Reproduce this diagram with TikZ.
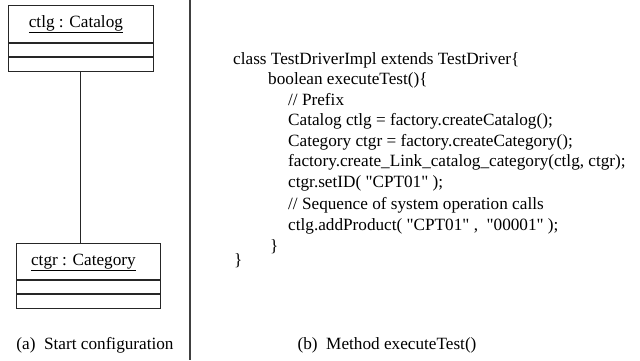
\documentclass[tikz,border=0pt]{standalone}
\usepackage{fontspec}
\setmainfont{Liberation Serif}
\usetikzlibrary{positioning}
%%
%% One line of the test driver code, placed by its baseline.
\newcommand{\codeLine}[4]{%%
  \node[codeStyle] (#1) at (#2,#3) {#4};
}
%% An object box: title compartment and two empty compartments.
\newcommand{\objBox}[6]{%%
  \node[titleStyle,minimum width=#4,minimum height=#5] (#1) at (#2,#3) {};
  \node[compStyle,minimum width=#4,below=0pt of #1] (#1Attr) {};
  \node[compStyle,minimum width=#4,below=0pt of #1Attr] (#1Ops) {};
  \node[objNameStyle] (#1Name) at ([xshift=-5pt,yshift=-22pt]#1.north) {\underline{#6}};
}
\newcommand{\qq}{\textquotedbl}

\begin{document}
\begin{tikzpicture}[%%
  x=1pt,y=-1pt,
  titleStyle/.style={draw=black!85,line width=0.8pt,inner sep=0pt,anchor=north west},%%
  compStyle/.style={draw=black!85,line width=0.8pt,inner sep=0pt,minimum height=13.5pt},%%
  objNameStyle/.style={inner sep=0pt,anchor=base,font=\fontsize{17.2}{20}\selectfont},%%
  codeStyle/.style={inner sep=0pt,anchor=base west,font=\fontsize{17.2}{20}\selectfont},%%
  captionStyle/.style={inner sep=0pt,anchor=base,font=\fontsize{17.2}{20}\selectfont},%%
  linkStyle/.style={draw=black!85,line width=0.8pt},%%
  sepStyle/.style={draw=black!75,line width=1.3pt}
]
\useasboundingbox (0,0) rectangle (640,360);
%%
%% (a) The start configuration.
\objBox{ctlg}{8}{5}{145pt}{37pt}{ctlg : Catalog}
\objBox{ctgr}{16}{243}{144pt}{36pt}{ctgr : Category}
\draw[linkStyle] (ctlgOps.south -| 80,0) -- (ctgr.north -| 80,0);
\node[captionStyle] (capA) at (95,349) {(a)\ \ Start configuration};
%%
%% The separator.
\coordinate (sepTop) at (190,0);
\coordinate (sepBot) at (190,360);
\draw[sepStyle] (sepTop) -- (sepBot);
%%
%% (b) The method executeTest().
\codeLine{l1}{233}{64}{class TestDriverImpl extends TestDriver\{}
\codeLine{l2}{268}{84.5}{boolean executeTest()\{}
\codeLine{l3}{288}{105}{// Prefix}
\codeLine{l4}{288}{125.5}{Catalog ctlg = factory.createCatalog();}
\codeLine{l5}{288}{146}{Category ctgr = factory.createCategory();}
\codeLine{l6}{288}{166.5}{factory.create\_Link\_catalog\_category(ctlg, ctgr);}
\codeLine{l7}{288}{187}{ctgr.setID( \qq CPT01\qq\ );}
\codeLine{l8}{288}{209.5}{// Sequence of system operation calls}
\codeLine{l9}{288}{230}{ctlg.addProduct( \qq CPT01\qq\ ,\ \ \qq 00001\qq\ );}
\codeLine{l10}{270}{251}{\}}
\codeLine{l11}{234}{265}{\}}
\node[captionStyle] (capB) at (387,349) {(b)\ \ Method executeTest()};
\end{tikzpicture}
\end{document}
